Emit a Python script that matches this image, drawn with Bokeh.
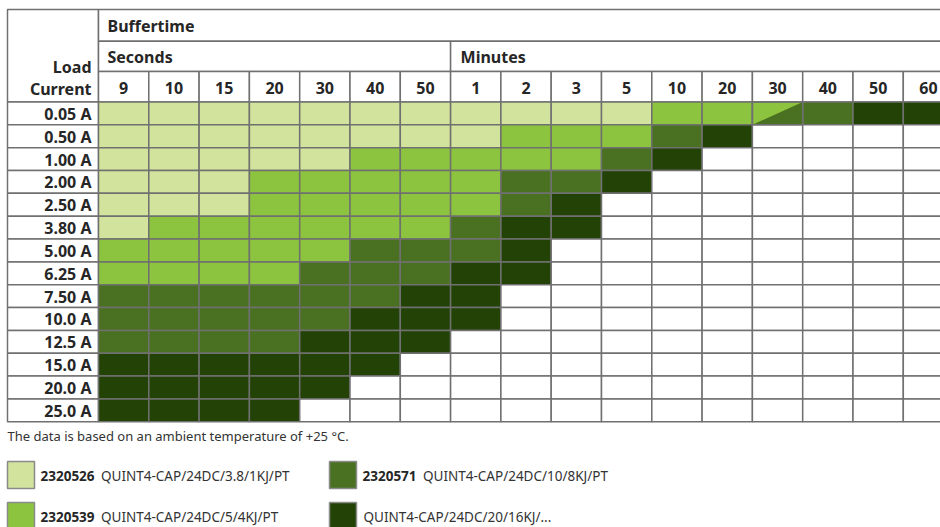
from bokeh.plotting import figure
from bokeh.models import Range1d, ColumnDataSource
from bokeh.core.properties import value
from bokeh.embed import file_html
from bokeh.resources import INLINE

# ---------------- data ----------------
title_text = "Buffertime"
row_header = ["Load", "Current"]
unit_groups = ["Seconds", "Minutes"]
seconds_cols = ["9", "10", "15", "20", "30", "40", "50"]
minutes_cols = ["1", "2", "3", "5", "10", "20", "30", "40", "50", "60"]
load_currents = ["0.05 A", "0.50 A", "1.00 A", "2.00 A", "2.50 A", "3.80 A", "5.00 A",
                 "6.25 A", "7.50 A", "10.0 A", "12.5 A", "15.0 A", "20.0 A", "25.0 A"]

# 0 = none, 1..4 = product index, "2/3" = split cell (upper-left 2, lower-right 3)
cell_product = [
    [1, 1, 1, 1, 1, 1, 1, 1, 1, 1, 1, 2, 2, "2/3", 3, 4, 4],
    [1, 1, 1, 1, 1, 1, 1, 1, 2, 2, 2, 3, 4, 0, 0, 0, 0],
    [1, 1, 1, 1, 1, 2, 2, 2, 2, 2, 3, 4, 0, 0, 0, 0, 0],
    [1, 1, 1, 2, 2, 2, 2, 2, 3, 3, 4, 0, 0, 0, 0, 0, 0],
    [1, 1, 1, 2, 2, 2, 2, 2, 3, 4, 0, 0, 0, 0, 0, 0, 0],
    [1, 2, 2, 2, 2, 2, 2, 3, 4, 4, 0, 0, 0, 0, 0, 0, 0],
    [2, 2, 2, 2, 2, 3, 3, 3, 4, 0, 0, 0, 0, 0, 0, 0, 0],
    [2, 2, 2, 2, 3, 3, 3, 4, 4, 0, 0, 0, 0, 0, 0, 0, 0],
    [3, 3, 3, 3, 3, 3, 4, 4, 0, 0, 0, 0, 0, 0, 0, 0, 0],
    [3, 3, 3, 3, 3, 4, 4, 4, 0, 0, 0, 0, 0, 0, 0, 0, 0],
    [3, 3, 3, 3, 4, 4, 4, 0, 0, 0, 0, 0, 0, 0, 0, 0, 0],
    [4, 4, 4, 4, 4, 4, 0, 0, 0, 0, 0, 0, 0, 0, 0, 0, 0],
    [4, 4, 4, 4, 4, 0, 0, 0, 0, 0, 0, 0, 0, 0, 0, 0, 0],
    [4, 4, 4, 4, 0, 0, 0, 0, 0, 0, 0, 0, 0, 0, 0, 0, 0],
]

product_codes = ["2320526", "2320539", "2320571", ""]
product_names = ["QUINT4-CAP/24DC/3.8/1KJ/PT", "QUINT4-CAP/24DC/5/4KJ/PT",
                 "QUINT4-CAP/24DC/10/8KJ/PT", "QUINT4-CAP/24DC/20/16KJ/..."]
product_colors = ["#d1e39c", "#8cc43f", "#4a7022", "#224206"]
footnote = "The data is based on an ambient temperature of +25 \u00b0C."

# ---------------- layout ----------------
FONT = "Noto Sans"
GRID = "#707070"
TXT = "#262626"
W, H = 940, 527
TL, TT = 7.0, 9.0          # table left / top
X0, CW = 98.0, 50.3        # first data column left, column width
H1, H2, Y0 = 40.7, 71.0, 101.5
RH = 22.84
LBL_X = 91.0

all_cols = seconds_cols + minutes_cols
ncol = len(all_cols)

p = figure(width=W, height=H, x_range=Range1d(0, W), y_range=Range1d(H, 0),
           output_backend="svg", toolbar_location=None, min_border=0,
           x_axis_location=None, y_axis_location=None)
p.grid.visible = False
p.outline_line_color = None
p.background_fill_color = "white"
p.border_fill_color = "white"

# header cells
nsec = len(seconds_cols)
hdr = dict(left=[TL, X0, X0, X0 + nsec * CW], right=[X0, X0 + ncol * CW, X0 + nsec * CW, X0 + ncol * CW],
           top=[TT, TT, H1, H1], bottom=[Y0, H1, H2, H2])
for c in range(ncol):
    hdr["left"].append(X0 + c * CW)
    hdr["right"].append(X0 + (c + 1) * CW)
    hdr["top"].append(H2)
    hdr["bottom"].append(Y0)
p.quad(source=ColumnDataSource(hdr), left="left", right="right", top="top", bottom="bottom",
       fill_color="white", line_color=GRID, line_width=1.5)

# row label cells + data cells
cl, cr, ct, cb, cf = [], [], [], [], []
split = []
for r, row in enumerate(cell_product):
    top = Y0 + r * RH
    bot = Y0 + (r + 1) * RH
    cl.append(TL); cr.append(X0); ct.append(top); cb.append(bot); cf.append("white")
    for c, v in enumerate(row):
        left = X0 + c * CW
        right = left + CW
        if isinstance(v, str):
            a, b = [int(s) for s in v.split("/")]
            split.append((left, right, top, bot, a, b))
            col = product_colors[a - 1]
        else:
            col = "white" if v == 0 else product_colors[v - 1]
        cl.append(left); cr.append(right); ct.append(top); cb.append(bot); cf.append(col)
p.quad(source=ColumnDataSource(dict(left=cl, right=cr, top=ct, bottom=cb, fill=cf)),
       left="left", right="right", top="top", bottom="bottom",
       fill_color="fill", line_color=GRID, line_width=1.5)

for (left, right, top, bot, a, b) in split:
    p.patch([left, right, right], [bot, top, bot], fill_color=product_colors[b - 1], line_color=None)
    p.quad(left=[left], right=[right], top=[top], bottom=[bot], fill_color=None,
           line_color=GRID, line_width=1.5)

# header texts
p.text(x=[X0 + 9], y=[(TT + H1) / 2 + 1], text=[title_text], text_font=value(FONT),
       text_font_style="bold", text_font_size="16px", text_color=TXT,
       text_align="left", text_baseline="middle")
p.text(x=[X0 + 9, X0 + nsec * CW + 10], y=[(H1 + H2) / 2 + 1] * 2, text=unit_groups,
       text_font=value(FONT), text_font_style="bold", text_font_size="16px", text_color=TXT,
       text_align="left", text_baseline="middle")
p.text(x=[X0 + (c + 0.5) * CW for c in range(ncol)], y=[(H2 + Y0) / 2 + 1.5] * ncol, text=all_cols,
       text_font=value(FONT), text_font_style="bold", text_font_size="16px", text_color=TXT,
       text_align="center", text_baseline="middle")
p.text(x=[LBL_X, LBL_X], y=[66.5, 88.0], text=row_header,
       text_font=value(FONT), text_font_style="bold", text_font_size="16px", text_color=TXT,
       text_align="right", text_baseline="middle")
p.text(x=[LBL_X] * len(load_currents), y=[Y0 + (r + 0.5) * RH + 0.5 for r in range(len(load_currents))],
       text=load_currents, text_font=value(FONT), text_font_style="bold", text_font_size="16px",
       text_color=TXT, text_align="right", text_baseline="middle")

# footnote
p.text(x=[TL], y=[435.5], text=[footnote], text_font=value(FONT), text_font_size="13px",
       text_color="#333333", text_align="left", text_baseline="middle")

# legend
LG_X = [TL, 329.0]
LG_Y = [461.0, 502.0]
SQ = 27.0
sq = dict(left=[], right=[], top=[], bottom=[], fill=[])
cx, cy, ctext, nx, ny, ntext = [], [], [], [], [], []
for k in range(len(product_codes)):
    x = LG_X[k // 2]
    y = LG_Y[k % 2]
    sq["left"].append(x); sq["right"].append(x + SQ)
    sq["top"].append(y); sq["bottom"].append(y + SQ)
    sq["fill"].append(product_colors[k])
    if product_codes[k]:
        cx.append(x + 33); cy.append(y + SQ / 2 + 1); ctext.append(product_codes[k])
        nx.append(x + 93.5)
    else:
        nx.append(x + 34)
    ny.append(y + SQ / 2 + 1); ntext.append(product_names[k])
p.quad(source=ColumnDataSource(sq), left="left", right="right", top="top", bottom="bottom",
       fill_color="fill", line_color="#8a8a8a", line_width=1.5)
p.text(x=cx, y=cy, text=ctext, text_font=value(FONT), text_font_style="bold",
       text_font_size="13.5px", text_color=TXT, text_align="left", text_baseline="middle")
p.text(x=nx, y=ny, text=ntext, text_font=value(FONT), text_font_size="13.5px",
       text_color="#333333", text_align="left", text_baseline="middle")

open("out.html", "w").write(file_html(p, INLINE))
